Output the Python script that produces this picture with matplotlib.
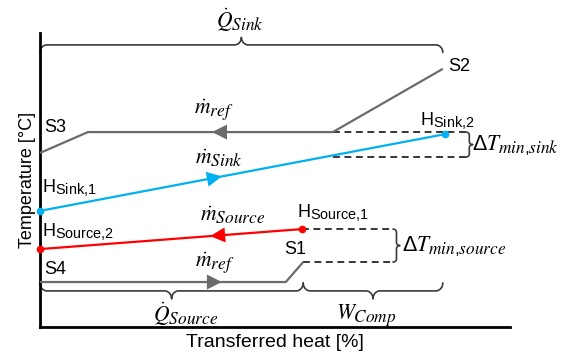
import numpy as np
import matplotlib
matplotlib.use("Agg")
import matplotlib.pyplot as plt
import matplotlib._mathtext as _mt

plt.rcParams['font.family'] = ['Liberation Sans', 'DejaVu Sans']
plt.rcParams['mathtext.fontset'] = 'custom'
plt.rcParams['mathtext.rm'] = 'Liberation Sans'
plt.rcParams['mathtext.it'] = 'STIXGeneral:italic'
plt.rcParams['mathtext.bf'] = 'Liberation Sans:bold'
# slightly larger subscripts
_mt.SHRINK_FACTOR = 0.8

# Refrigerant, high-pressure side (S2 -> S3), transferred heat [%] / temperature [a.u.]
ref_hi_x = [85.7, 62.3, 10.2, 0.0]
ref_hi_y = [87.8, 66.3, 66.3, 59.2]
# Refrigerant, low-pressure side (S4 -> S1)
ref_lo_x = [0.0, 52.3, 56.0]
ref_lo_y = [15.3, 15.3, 22.1]
# Heat sink stream (H_Sink,1 -> H_Sink,2)
sink_x = [0.0, 86.2]
sink_y = [39.5, 65.6]
# Heat source stream (H_Source,1 -> H_Source,2)
source_x = [55.7, 0.0]
source_y = [33.3, 26.5]
# Pinch boundaries
pinch_sink_x_end = 90.6
pinch_sink_y_low = 57.8
pinch_source_x_end = 75.1

GREY = '#6b6b6b'
BLUE = '#00b0f0'
RED = '#ff0000'

fig = plt.figure(figsize=(5.68, 3.56), dpi=100)
ax = fig.add_axes([40/568, 29/356, 470/568, 294/356])
ax.set_xlim(0, 100)
ax.set_ylim(0, 100)
ax.set_xticks([])
ax.set_yticks([])
for s in ('top', 'right'):
    ax.spines[s].set_visible(False)
for s in ('left', 'bottom'):
    ax.spines[s].set_linewidth(2.0)
    ax.spines[s].set_color('black')

ax.set_xlabel('Transferred heat [%]', fontsize=14, labelpad=5)
ax.set_ylabel('Temperature [°C]', fontsize=13, labelpad=3)

lw = 1.6
ax.plot(ref_hi_x, ref_hi_y, color=GREY, lw=lw, solid_capstyle='butt', zorder=3)
ax.plot(ref_lo_x, ref_lo_y, color=GREY, lw=lw, solid_capstyle='butt', zorder=3)
ax.plot(sink_x, sink_y, color=BLUE, lw=lw, zorder=3)
ax.plot(source_x, source_y, color=RED, lw=lw, zorder=3)
ax.plot(sink_x, sink_y, 'o', color=BLUE, ms=4.5, zorder=4, clip_on=False)
ax.plot(source_x, source_y, 'o', color=RED, ms=4.5, zorder=4, clip_on=False)


def flow_arrow(xs, ys, x_tip, direction, color):
    """Arrow head sitting on a polyline, pointing along +x (1) or -x (-1)."""
    xs = np.asarray(xs, float)
    ys = np.asarray(ys, float)
    order = np.argsort(xs)
    y_tip = np.interp(x_tip, xs[order], ys[order])
    dx = 2.4 * direction
    y_tail = np.interp(x_tip - dx, xs[order], ys[order])
    ax.annotate('', xy=(x_tip, y_tip), xytext=(x_tip - dx, y_tail),
                arrowprops=dict(arrowstyle='-|>,head_length=0.9,head_width=0.45',
                                color=color, lw=0, mutation_scale=12,
                                shrinkA=0, shrinkB=0), zorder=5)


flow_arrow(ref_hi_x, ref_hi_y, 36.6, -1, GREY)
flow_arrow(sink_x, sink_y, 38.7, 1, BLUE)
flow_arrow(source_x, source_y, 36.2, -1, RED)
flow_arrow(ref_lo_x, ref_lo_y, 38.7, 1, GREY)

# Pinch (minimum temperature difference) guides
dash = dict(color='black', lw=1.1, ls=(0, (4.5, 3)), zorder=2)
ax.plot([ref_hi_x[1], pinch_sink_x_end], [ref_hi_y[1]] * 2, **dash)
ax.plot([ref_hi_x[1], pinch_sink_x_end], [pinch_sink_y_low] * 2, **dash)
ax.plot([source_x[0], pinch_source_x_end], [source_y[0]] * 2, **dash)
ax.plot([ref_lo_x[2], pinch_source_x_end], [ref_lo_y[2]] * 2, **dash)

fig.canvas.draw()
to_px = ax.transData.transform
to_data = ax.transData.inverted().transform


def brace(x0, x1, y0, y1, depth, r=6.0, color='#3a3a3a', lw=1.2):
    """Curly brace from data point (x0, y0) to (x1, y1), bulging to the
    left of the travel direction by `depth` pixels."""
    p0 = to_px((x0, y0))
    p1 = to_px((x1, y1))
    d = p1 - p0
    L = np.hypot(*d)
    u = d / L
    v = np.array([-u[1], u[0]])
    half = L / 2.0
    t = np.linspace(0, np.pi / 2, 20)
    bar = depth / 2.0
    left = np.vstack([
        np.c_[r * (1 - np.cos(t)), bar * np.sin(t)],                # end curl
        np.c_[[r, half - r], [bar, bar]],                           # straight bar
        np.c_[half - r + r * np.sin(t), bar + bar * (1 - np.cos(t))],  # to tip
    ])
    right = left[::-1].copy()
    right[:, 0] = L - right[:, 0]
    uv = np.vstack([left, right])
    pix = p0 + np.outer(uv[:, 0], u) + np.outer(uv[:, 1], v)
    dat = to_data(pix)
    ax.plot(dat[:, 0], dat[:, 1], color=color, lw=lw, clip_on=False, zorder=2,
            solid_capstyle='round', solid_joinstyle='round')


# Heat flow braces
brace(0.0, ref_hi_x[0], 93.4, 93.4, 15, r=7)
brace(ref_lo_x[2], 0.0, ref_lo_y[0] - 0.3, ref_lo_y[0] - 0.3, 16, r=7)
brace(ref_hi_x[0], ref_lo_x[2], ref_lo_y[0] - 0.3, ref_lo_y[0] - 0.3, 16, r=7)
brace(pinch_sink_x_end, pinch_sink_x_end, ref_hi_y[1], pinch_sink_y_low, 7, r=3)
brace(pinch_source_x_end, pinch_source_x_end, source_y[0], ref_lo_y[2], 7, r=3)

fs = 13
mfs = 15.5
ax.text(42.5, 104.4, r'$\dot{Q}_{Sink}$', fontsize=mfs, ha='center', va='center', clip_on=False)
ax.text(37.0, 73.8, r'$\dot{m}_{ref}$', fontsize=mfs, ha='center', va='center')
ax.text(38.0, 57.4, r'$\dot{m}_{Sink}$', fontsize=mfs, ha='center', va='center')
ax.text(41.0, 38.0, r'$\dot{m}_{Source}$', fontsize=mfs, ha='center', va='center')
ax.text(37.2, 21.5, r'$\dot{m}_{ref}$', fontsize=mfs, ha='center', va='center')
ax.text(31.0, 4.4, r'$\dot{Q}_{Source}$', fontsize=mfs, ha='center', va='center')
ax.text(69.4, 4.2, r'$W_{Comp}$', fontsize=mfs, ha='center', va='center')
ax.text(92.0, 62.0, r'$\Delta T_{min{,}sink}$', fontsize=mfs, ha='left', va='center', clip_on=False)
ax.text(77.0, 27.4, r'$\Delta T_{min{,}source}$', fontsize=mfs, ha='left', va='center', clip_on=False)

ax.text(0.9, 67.9, 'S3', fontsize=fs, ha='left', va='center')
ax.text(86.8, 88.6, 'S2', fontsize=fs, ha='left', va='center')
ax.text(52.0, 26.4, 'S1', fontsize=fs, ha='left', va='center')
ax.text(0.9, 19.6, 'S4', fontsize=fs, ha='left', va='center')
ax.text(0.5, 47.5, r'H$_{\mathrm{Sink{,}1}}$', fontsize=fs, ha='left', va='center')
ax.text(80.8, 70.4, r'H$_{\mathrm{Sink{,}2}}$', fontsize=fs, ha='left', va='center')
ax.text(0.5, 32.6, r'H$_{\mathrm{Source{,}2}}$', fontsize=fs, ha='left', va='center')
ax.text(54.6, 39.1, r'H$_{\mathrm{Source{,}1}}$', fontsize=fs, ha='left', va='center')

fig.savefig('out.png', dpi=100)
